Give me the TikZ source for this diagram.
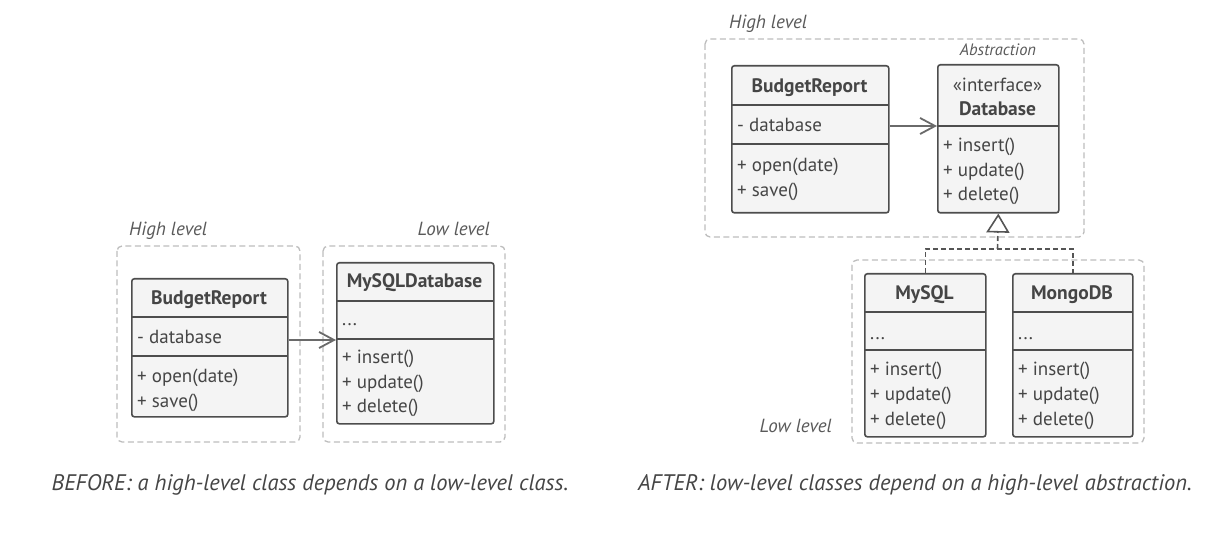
\documentclass[tikz,border=0pt]{standalone}
\usepackage{fontspec}
\setmainfont{PT Sans}
\usetikzlibrary{arrows.meta}
\definecolor{boxc}{HTML}{4D4D4D}
\definecolor{fillc}{HTML}{F4F4F4}
\definecolor{txtc}{HTML}{454545}
\definecolor{lblc}{HTML}{5A5A5A}
\definecolor{dashc}{HTML}{BDBDBD}
\definecolor{arrc}{HTML}{6A6A6A}
\definecolor{implc}{HTML}{555555}
\tikzset{
  cls/.style={draw=boxc, fill=fillc, line width=1.6pt, rounded corners=2.5pt, inner sep=0pt, anchor=north west},
  divider/.style={draw=boxc, line width=1.8pt},
  frame/.style={draw=dashc, line width=1.3pt, dash pattern=on 6pt off 3.5pt, rounded corners=5pt},
  member/.style={anchor=base west, inner sep=0pt, text=txtc, font=\fontsize{19}{19}\selectfont},
  ctitle/.style={anchor=base, inner sep=0pt, text=txtc, font=\bfseries\fontsize{19.5}{19.5}\selectfont},
  stereo/.style={anchor=base, inner sep=0pt, text=txtc, font=\fontsize{19}{19}\selectfont},
  lbl/.style={inner sep=0pt, text=lblc, font=\itshape\fontsize{19}{19}\selectfont},
  abslbl/.style={inner sep=0pt, text=lblc, font=\itshape\fontsize{16.5}{16.5}\selectfont},
  caption/.style={anchor=base, inner sep=0pt, text=txtc, font=\itshape\fontsize{22.5}{22.5}\selectfont},
  dep/.style={draw=arrc, line width=1.8pt, -{Straight Barb[length=15pt, width=16pt]}},
  real/.style={draw=implc, line width=1.6pt, dash pattern=on 5pt off 3pt},
  realtip/.style={-{Triangle[open, length=19pt, width=23pt, fill=white]}},
}
\begin{document}
\begin{tikzpicture}[x=1pt, y=-1pt]
\useasboundingbox (0,0) rectangle (1228,534);

% ---------------- BEFORE ----------------
\draw[frame] (117,246) rectangle (300,442);
\draw[frame] (323,246) rectangle (505,442);
\node[lbl, anchor=base west] (hlL) at (129,236) {High level};
\node[lbl, anchor=base east] (llL) at (490,236) {Low level};

\node[cls, minimum width=156pt, minimum height=138pt] (brL) at (131,278) {};
\draw[divider] (131,317) -- (287,317);
\draw[divider] (131,356) -- (287,356);
\node[ctitle] (brLt) at (209,305) {BudgetReport};
\node[member] (brLa) at (137,344) {- database};
\node[member] (brLo) at (137,382) {+ open(date)};
\node[member] (brLs) at (137,407) {+ save()};

\node[cls, minimum width=157pt, minimum height=161pt] (myL) at (336,262) {};
\draw[divider] (336,301) -- (493,301);
\draw[divider] (336,339) -- (493,339);
\node[ctitle] (myLt) at (414.5,288) {MySQLDatabase};
\node[member] (myLd) at (342,326) {...};
\node[member] (myLi) at (342,363) {+ insert()};
\node[member] (myLu) at (342,388) {+ update()};
\node[member] (myLx) at (342,412) {+ delete()};

\coordinate (aL) at (336,340);
\draw[dep] (brL.east |- aL) -- (myL.west |- aL);

\node[caption] (capL) at (310,490) {BEFORE: a high-level class depends on a low-level class.};

% ---------------- AFTER ----------------
\draw[frame] (705,39) rectangle (1084,237);
\draw[frame] (852,260) rectangle (1144,443);
\node[lbl, anchor=base west] (hlR) at (729,29) {High level};
\node[lbl, anchor=base east] (llR) at (832,432) {Low level};
\node[abslbl, anchor=base] (absR) at (998,56) {Abstraction};

\node[cls, minimum width=157pt, minimum height=147pt] (brR) at (731,65) {};
\draw[divider] (731,105) -- (888,105);
\draw[divider] (731,144) -- (888,144);
\node[ctitle] (brRt) at (809.5,93) {BudgetReport};
\node[member] (brRa) at (737,132) {- database};
\node[member] (brRo) at (737,172) {+ open(date)};
\node[member] (brRs) at (737,197) {+ save()};

\node[cls, minimum width=121pt, minimum height=148pt] (dbR) at (937,64) {};
\draw[divider] (937,126) -- (1058,126);
\node[stereo] (dbRs) at (997.5,92) {«interface»};
\node[ctitle] (dbRt) at (997.5,116) {Database};
\node[member] (dbRi) at (943,152) {+ insert()};
\node[member] (dbRu) at (943,177) {+ update()};
\node[member] (dbRx) at (943,201) {+ delete()};

\coordinate (aR) at (937,126);
\draw[dep] (brR.east |- aR) -- (dbR.west |- aR);

\node[cls, minimum width=121pt, minimum height=163pt] (myR) at (864,273) {};
\draw[divider] (864,312) -- (985,312);
\draw[divider] (864,350) -- (985,350);
\node[ctitle] (myRt) at (924.5,300) {MySQL};
\node[member] (myRd) at (870,339) {...};
\node[member] (myRi) at (870,375) {+ insert()};
\node[member] (myRu) at (870,400) {+ update()};
\node[member] (myRx) at (870,425) {+ delete()};

\node[cls, minimum width=120pt, minimum height=163pt] (mgR) at (1012,273) {};
\draw[divider] (1012,312) -- (1132,312);
\draw[divider] (1012,350) -- (1132,350);
\node[ctitle] (mgRt) at (1072,300) {MongoDB};
\node[member] (mgRd) at (1018,339) {...};
\node[member] (mgRi) at (1018,375) {+ insert()};
\node[member] (mgRu) at (1018,400) {+ update()};
\node[member] (mgRx) at (1018,425) {+ delete()};

\coordinate (junc) at (997.5,249);
\draw[real] (myR.north) |- (junc) -| (mgR.north);
\draw[real, realtip] (junc) -- (dbR.south);

\node[caption] (capR) at (915,490) {AFTER: low-level classes depend on a high-level abstraction.};
\end{tikzpicture}
\end{document}
